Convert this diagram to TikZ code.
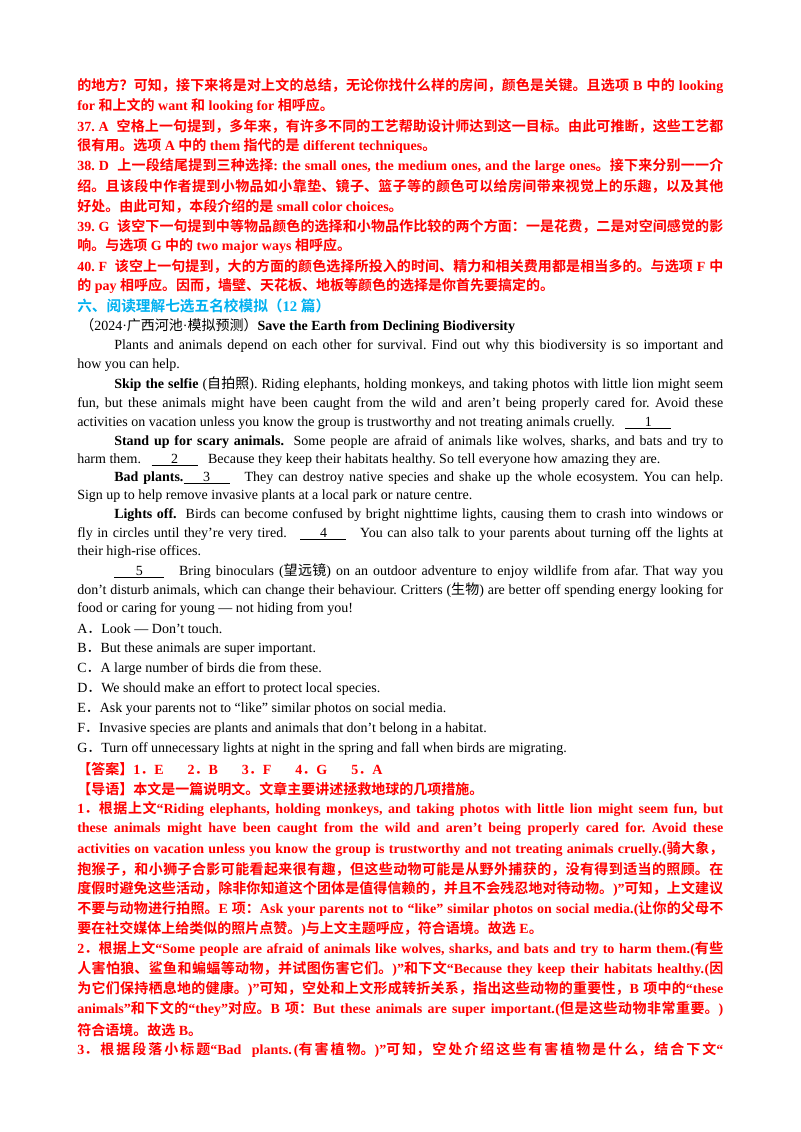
\documentclass[tikz,border=0pt]{standalone}
\usepackage{fontspec}
\setmainfont{Liberation Serif}
\newfontfamily\cjkfont{Noto Sans CJK SC}[BoldFont={Noto Sans CJK SC Bold}]
\newXeTeXintercharclass\cjkclass
\makeatletter
\count@="3000 \loop\XeTeXcharclass\count@=\cjkclass\advance\count@ 1\ifnum\count@<"3040\repeat
\count@="4E00 \loop\XeTeXcharclass\count@=\cjkclass\advance\count@ 1\ifnum\count@<"A000\repeat
\count@="FF00 \loop\XeTeXcharclass\count@=\cjkclass\advance\count@ 1\ifnum\count@<"FFF0\repeat
\makeatother
\XeTeXinterchartokenstate=1
\XeTeXinterchartoks 0 \cjkclass = {\cjkfont}
\XeTeXinterchartoks 4095 \cjkclass = {\cjkfont}
\XeTeXinterchartoks \cjkclass 0 = {\rmfamily}
\XeTeXinterchartoks \cjkclass 4095 = {\rmfamily}
\XeTeXlinebreaklocale "zh"
\XeTeXlinebreakskip=0pt plus 3pt minus 0.3pt
\frenchspacing
\definecolor{ansred}{RGB}{255,0,0}
\definecolor{headblue}{RGB}{0,176,240}
\newdimen\pxu \pxu=0.75pt
\newcommand\curfont{}
\newcommand\JLine[3]{\node[txt,name=j#2] at (#1,#2) {\parbox{\dimexpr723\pxu-#1\pxu\relax}{\parfillskip=0pt\noindent\spaceskip=0.25em plus 1em minus 0.08em #3}};}
\newcommand\PLine[3]{\node[txt,name=p#2] at (#1,#2) {#3};}
\newcommand\blank[2]{\underline{\makebox[#1\pxu]{#2}}}
\begin{document}
\begin{tikzpicture}[x=0.75pt,y=-0.75pt,
 txt/.style={anchor=west,inner sep=0pt,font=\fontsize{10.5pt}{12pt}\selectfont\curfont}]
\useasboundingbox (0,0) rectangle (800,1132);
\begin{scope}[every node/.append style={text=ansred}]
\def\curfont{\bfseries}
\JLine{77}{86}{的地方？可知，接下来将是对上文的总结，无论你找什么样的房间，颜色是关键。且选项 B 中的 looking}
\PLine{77}{106}{for 和上文的 want 和 looking for 相呼应。}
\JLine{77}{126}{37. A\ \ 空格上一句提到，多年来，有许多不同的工艺帮助设计师达到这一目标。由此可推断，这些工艺都}
\PLine{77}{146}{很有用。选项 A 中的 them 指代的是 different techniques。}
\JLine{77}{166}{38. D\ \ 上一段结尾提到三种选择: the small ones, the medium ones, and the large ones。接下来分别一一介}
\JLine{77}{186}{绍。且该段中作者提到小物品如小靠垫、镜子、篮子等的颜色可以给房间带来视觉上的乐趣，以及其他}
\PLine{77}{206}{好处。由此可知，本段介绍的是 small color choices。}
\JLine{77}{226}{39. G\ \ 该空下一句提到中等物品颜色的选择和小物品作比较的两个方面：一是花费，二是对空间感觉的影}
\PLine{77}{246}{响。与选项 G 中的 two major ways 相呼应。}
\JLine{77}{266}{40. F\ \ 该空上一句提到，大的方面的颜色选择所投入的时间、精力和相关费用都是相当多的。与选项 F 中}
\PLine{77}{286}{的 pay 相呼应。因而，墙壁、天花板、地板等颜色的选择是你首先要搞定的。}
\end{scope}
\node[txt,name=head,text=headblue,font=\fontsize{11pt}{12pt}\selectfont\bfseries] at (77,306) {六、阅读理解七选五名校模拟（12 篇）};
\PLine{80}{326}{（2024·广西河池·模拟预测）\textbf{Save the Earth from Declining Biodiversity}}
\JLine{114}{346}{Plants and animals depend on each other for survival. Find out why this biodiversity is so important and}
\PLine{77}{365}{how you can help.}
\JLine{114}{384}{\textbf{Skip the selfie} (自拍照). Riding elephants, holding monkeys, and taking photos with little lion might seem}
\JLine{77}{404}{fun, but these animals might have been caught from the wild and aren’t being properly cared for. Avoid these}
\PLine{77}{423}{activities on vacation unless you know the group is trustworthy and not treating animals cruelly.\ \ \ \blank{46}{1}}
\JLine{114}{442}{\textbf{Stand up for scary animals.}\ \ Some people are afraid of animals like wolves, sharks, and bats and try to}
\PLine{77}{460}{harm them.\ \ \ \blank{46}{2}\ \ \ Because they keep their habitats healthy. So tell everyone how amazing they are.}
\JLine{114}{478}{\textbf{Bad plants.}\blank{46}{3}\ \ \ They can destroy native species and shake up the whole ecosystem. You can help.}
\PLine{77}{496}{Sign up to help remove invasive plants at a local park or nature centre.}
\JLine{114}{515}{\textbf{Lights off.}\ \ Birds can become confused by bright nighttime lights, causing them to crash into windows or}
\JLine{77}{534}{fly in circles until they’re very tired.\ \ \ \blank{46}{4}\ \ \ You can also talk to your parents about turning off the lights at}
\PLine{77}{552}{their high-rise offices.}
\JLine{114}{571}{\blank{50}{5}\ \ \ Bring binoculars (望远镜) on an outdoor adventure to enjoy wildlife from afar. That way you}
\JLine{77}{590}{don’t disturb animals, which can change their behaviour. Critters (生物) are better off spending energy looking for}
\PLine{77}{609}{food or caring for young — not hiding from you!}
\PLine{77}{629}{A．Look — Don’t touch.}
\PLine{77}{649}{B．But these animals are super important.}
\PLine{77}{669}{C．A large number of birds die from these.}
\PLine{77}{689}{D．We should make an effort to protect local species.}
\PLine{77}{709}{E．Ask your parents not to “like” similar photos on social media.}
\PLine{77}{729}{F．Invasive species are plants and animals that don’t belong in a habitat.}
\PLine{77}{749}{G．Turn off unnecessary lights at night in the spring and fall when birds are migrating.}
\begin{scope}[every node/.append style={text=ansred}]
\def\curfont{\bfseries}
\PLine{77}{769}{【答案】1．E\hspace{18pt}2．B\hspace{18pt}3．F\hspace{18pt}4．G\hspace{18pt}5．A}
\PLine{77}{789}{【导语】本文是一篇说明文。文章主要讲述拯救地球的几项措施。}
\JLine{77}{809}{1．根据上文“Riding elephants, holding monkeys, and taking photos with little lion might seem fun, but}
\JLine{77}{829}{these animals might have been caught from the wild and aren’t being properly cared for. Avoid these}
\JLine{77}{849}{activities on vacation unless you know the group is trustworthy and not treating animals cruelly.(骑大象，}
\JLine{77}{869}{抱猴子，和小狮子合影可能看起来很有趣，但这些动物可能是从野外捕获的，没有得到适当的照顾。在}
\JLine{77}{889}{度假时避免这些活动，除非你知道这个团体是值得信赖的，并且不会残忍地对待动物。)”可知，上文建议}
\JLine{77}{909}{不要与动物进行拍照。E 项：Ask your parents not to “like” similar photos on social media.(让你的父母不}
\PLine{77}{929}{要在社交媒体上给类似的照片点赞。)与上文主题呼应，符合语境。故选 E。}
\JLine{77}{949}{2．根据上文“Some people are afraid of animals like wolves, sharks, and bats and try to harm them.(有些}
\JLine{77}{969}{人害怕狼、鲨鱼和蝙蝠等动物，并试图伤害它们。)”和下文“Because they keep their habitats healthy.(因}
\JLine{77}{989}{为它们保持栖息地的健康。)”可知，空处和上文形成转折关系，指出这些动物的重要性，B 项中的“these}
\JLine{77}{1009}{animals”和下文的“they”对应。B 项：But these animals are super important.(但是这些动物非常重要。)}
\PLine{77}{1030}{符合语境。故选 B。}
\JLine{77}{1050}{3．根据段落小标题“Bad plants.(有害植物。)”可知，空处介绍这些有害植物是什么，结合下文“}
\end{scope}
\end{tikzpicture}
\end{document}
